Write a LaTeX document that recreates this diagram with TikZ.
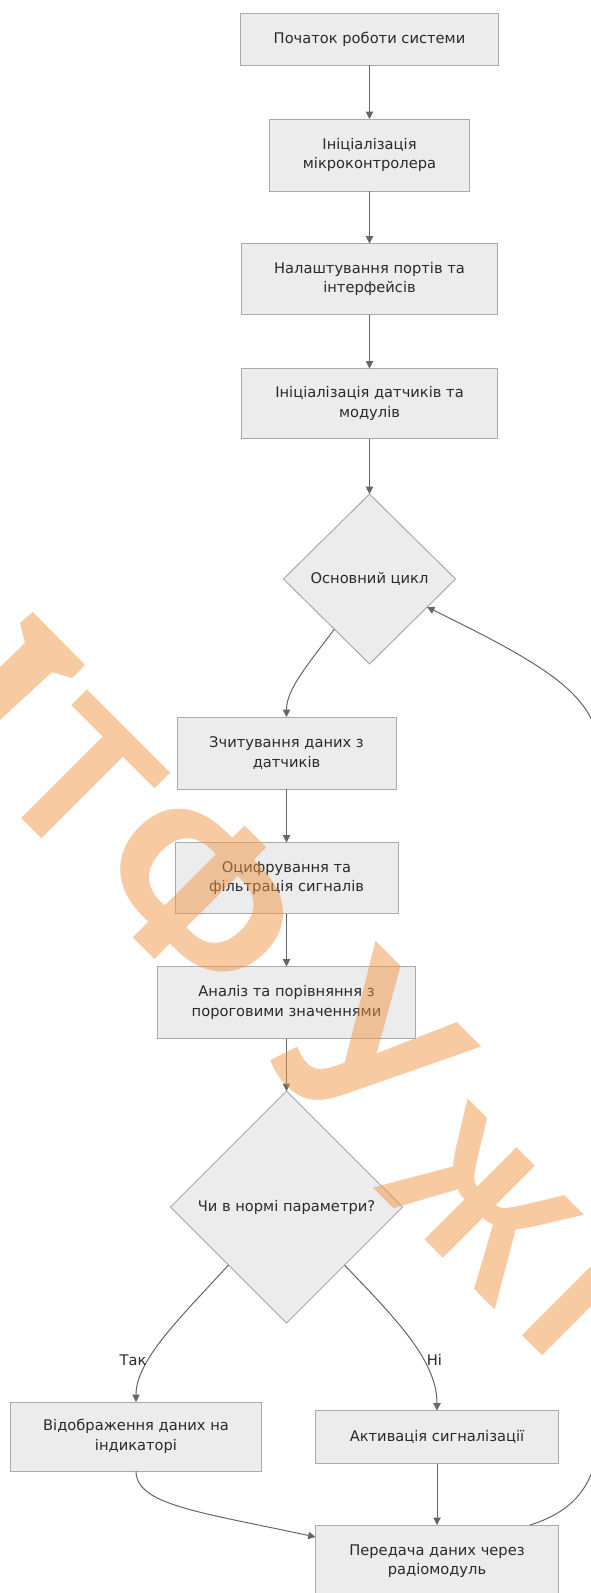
\documentclass[tikz,border=0pt]{standalone}
\usepackage{fontspec}
\setmainfont{DejaVu Sans}
\newfontfamily\wmfont{Liberation Sans}
\usetikzlibrary{shapes.geometric,arrows.meta}
\definecolor{boxfill}{HTML}{ECECEC}
\definecolor{boxline}{HTML}{AAAAAA}
\definecolor{edgecol}{HTML}{666666}
\definecolor{txt}{HTML}{2A2A2A}
\definecolor{wm}{RGB}{240,150,70}
\begin{document}
\begin{tikzpicture}[x=0.75pt,y=0.75pt,
  flowbox/.style={draw=boxline,fill=boxfill,line width=0.75pt,text=txt,align=center,
    font=\fontsize{11}{14.6}\selectfont,inner sep=0pt,outer sep=0pt},
  choice/.style={diamond,draw=boxline,fill=boxfill,line width=0.75pt,text=txt,align=center,
    font=\fontsize{11}{14.6}\selectfont,inner sep=0pt,outer sep=0pt},
  link/.style={draw=edgecol,line width=0.75pt,-{Triangle[length=5.5pt,width=5.5pt]}},
  elabel/.style={text=txt,font=\fontsize{11}{14.6}\selectfont,inner sep=1pt},
  wmark/.style={text=wm,font=\wmfont\bfseries,rotate=-45,inner sep=0pt},
  wmpiece/.style={fill=wm,draw=none}
]
\clip (0,0) rectangle (591,-1593);
\fill[white] (0,0) rectangle (591,-1593);

\node[flowbox,minimum width=193.5pt,minimum height=39pt] (b1) at (369.5,-39) {Початок роботи системи};
\node[flowbox,minimum width=150pt,minimum height=54pt] (b2) at (369.5,-155) {Ініціалізація\\мікроконтролера};
\node[flowbox,minimum width=192pt,minimum height=53.25pt] (b3) at (369.5,-279) {Налаштування портів та\\інтерфейсів};
\node[flowbox,minimum width=192pt,minimum height=52.5pt] (b4) at (369.5,-403.5) {Ініціалізація датчиків та\\модулів};
\node[choice,minimum width=129pt,minimum height=127.5pt] (d1) at (369.5,-579) {Основний цикл};
\node[flowbox,minimum width=164.25pt,minimum height=54pt] (b5) at (286.5,-753) {Зчитування даних з\\датчиків};
\node[flowbox,minimum width=167.25pt,minimum height=53.25pt] (b6) at (286.5,-878) {Оцифрування та\\фільтрація сигналів};
\node[flowbox,minimum width=193.5pt,minimum height=54pt] (b7) at (286.5,-1002.5) {Аналіз та порівняння з\\пороговими значеннями};
\node[choice,minimum width=174pt,minimum height=174pt] (d2) at (286.5,-1207) {Чи в нормі параметри?};
\node[flowbox,minimum width=188.25pt,minimum height=51.75pt] (b8) at (136,-1436.5) {Відображення даних на\\індикаторі};
\node[flowbox,minimum width=182.25pt,minimum height=39.75pt] (b9) at (437,-1437) {Активація сигналізації};
\node[flowbox,minimum width=182.25pt,minimum height=54pt] (b10) at (437,-1561) {Передача даних через\\радіомодуль};

\draw[link] (b1.south) -- (b2.north);
\draw[link] (b2.south) -- (b3.north);
\draw[link] (b3.south) -- (b4.north);
\draw[link] (b4.south) -- (d1.north);
\draw[link] (d1.-125) .. controls (305,-668) and (286.5,-690) .. (b5.north);
\draw[link] (b5.south) -- (b6.north);
\draw[link] (b6.south) -- (b7.north);
\draw[link] (b7.south) -- (d2.north);
\draw[link] (d2.south west) .. controls (180,-1318) and (136,-1360) .. (b8.north);
\draw[link] (d2.south east) .. controls (395,-1318) and (437,-1360) .. (b9.north);
\node[elabel] (lyes) at (133,-1360) {Так};
\node[elabel] (lno) at (434.5,-1360) {Ні};
\draw[link] (b8.south) .. controls (136,-1505) and (200,-1512) .. ([yshift=18pt]b10.west);
\draw[link] (b9.south) -- (b10.north);
\draw[link] ([xshift=69.75pt]b10.north) .. controls (578,-1510) and (600,-1480) .. (600,-1420)
  -- (600,-760) .. controls (600,-700) and (560,-672) .. (d1.-26);

% watermark
\begin{scope}[transparency group,opacity=0.5]
\fill[wmpiece] (33,-612) -- (85,-665) -- (72,-678) -- (52,-672) -- (0,-720) -- (0,-667) -- (25,-643) -- (20,-623) -- cycle;
\node[wmark,font=\wmfont\bfseries\fontsize{150}{150}\selectfont] (wm1) at (80,-780) {Т};
\node[wmark,font=\wmfont\bfseries\fontsize{170}{170}\selectfont] (wm2) at (200,-893) {Ф};
\node[wmark,font=\wmfont\bfseries\fontsize{178}{178}\selectfont] (wm3) at (370,-1052) {У};
\node[wmark,font=\wmfont\bfseries\fontsize{142}{142}\selectfont] (wm4) at (480,-1203) {Ж};
\fill[wmpiece] (522,-1335) -- (542,-1355) -- (634,-1263) -- (614,-1243) -- cycle;
\end{scope}
\end{tikzpicture}
\end{document}
